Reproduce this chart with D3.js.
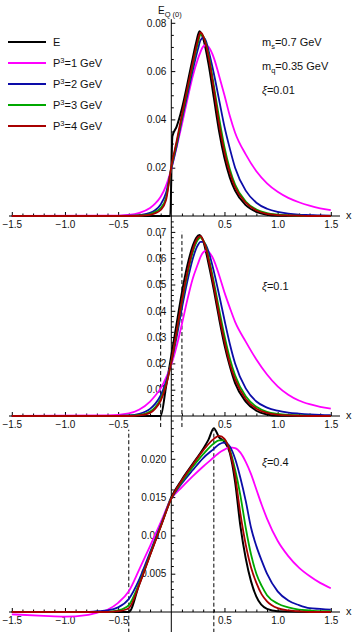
<!DOCTYPE html>
<html><head><meta charset="utf-8">
<script src="https://cdn.jsdelivr.net/npm/d3@7"></script>
<style>
body{margin:0;background:#fff}
svg{display:block}
text{font-family:"Liberation Sans",Arial,sans-serif;fill:#111}
</style>
</head><body>
<svg id="c" width="354" height="632"></svg>
<script>
// ---------------- DATA ----------------
const seriesNames = ["E", "P3=1 GeV", "P3=2 GeV", "P3=3 GeV", "P3=4 GeV"];
const seriesColors = ["#000000", "#ff00ff", "#0c0ca8", "#00a800", "#a80000"];
const xiValues = [0.01, 0.1, 0.4];

const xTickValues = [-1.5, -1.0, -0.5, 0.5, 1.0, 1.5];
const xTickLabels = ["\u22121.5", "\u22121.0", "\u22120.5", "0.5", "1.0", "1.5"];

const yTicks1 = [0.02, 0.04, 0.06, 0.08];
const yLabels1 = ["0.02", "0.04", "0.06", "0.08"];
const yTicks2 = [0.01, 0.02, 0.03, 0.04, 0.05, 0.06, 0.07];
const yLabels2 = ["0.01", "0.02", "0.03", "0.04", "0.05", "0.06", "0.07"];
const yTicks3 = [0.005, 0.010, 0.015, 0.020];
const yLabels3 = ["0.005", "0.010", "0.015", "0.020"];

// Panel 1 (xi = 0.01)
const grid1 = [-1.5, -0.6, -0.4, -0.3, -0.2, -0.15, -0.1, -0.05, 0, 0.05, 0.1, 0.15, 0.2, 0.25, 0.275, 0.3, 0.325, 0.35, 0.4, 0.45, 0.5, 0.55, 0.6, 0.7, 0.8, 0.9, 1.0, 1.1, 1.2, 1.3, 1.4, 1.5];
const p1_P1 = [0, 0.0001, 0.0005, 0.0013, 0.0033, 0.0052, 0.008, 0.0125, 0.0195, 0.0285, 0.038, 0.048, 0.0575, 0.065, 0.068, 0.0702, 0.0707, 0.0700, 0.0655, 0.058, 0.050, 0.0415, 0.0345, 0.0255, 0.0185, 0.0135, 0.010, 0.0075, 0.0057, 0.0043, 0.0032, 0.0024];
const p1_P2 = [0, 0, 0.0001, 0.0004, 0.0013, 0.0025, 0.0048, 0.0095, 0.0195, 0.029, 0.040, 0.050, 0.060, 0.069, 0.0728, 0.0738, 0.0725, 0.0685, 0.059, 0.048, 0.037, 0.028, 0.020, 0.0105, 0.0055, 0.003, 0.0017, 0.001, 0.0006, 0.0004, 0.0002, 0.0001];
const p1_P3 = [0, 0, 0.00005, 0.0002, 0.0008, 0.0017, 0.0033, 0.0075, 0.020, 0.030, 0.041, 0.0515, 0.062, 0.0715, 0.0752, 0.0745, 0.0715, 0.067, 0.054, 0.0405, 0.0285, 0.0195, 0.013, 0.006, 0.0027, 0.0012, 0.0006, 0.0003, 0.0001, 0, 0, 0];
const p1_P4 = [0, 0, 0, 0.0001, 0.0005, 0.0012, 0.0025, 0.0065, 0.0205, 0.031, 0.042, 0.0525, 0.063, 0.0728, 0.0760, 0.0745, 0.071, 0.066, 0.0525, 0.038, 0.0265, 0.018, 0.012, 0.0055, 0.0023, 0.0009, 0.0004, 0.0002, 0.0001, 0, 0, 0];
const e1X = [-1.5, -0.01, 0.01, 0.05, 0.1, 0.15, 0.2, 0.235, 0.265, 0.3, 0.35, 0.4, 0.45, 0.5, 0.55, 0.6, 0.7, 0.8, 0.9, 1.0, 1.5];
const e1Y = [0, 0, 0.033, 0.037, 0.0445, 0.0545, 0.065, 0.072, 0.0765, 0.0735, 0.063, 0.049, 0.035, 0.024, 0.016, 0.0105, 0.0045, 0.0017, 0.0005, 0.0001, 0];

// Panel 2 (xi = 0.1)
const grid2 = [-1.5, -0.6, -0.4, -0.3, -0.2, -0.15, -0.1, -0.05, 0, 0.05, 0.1, 0.15, 0.2, 0.25, 0.275, 0.3, 0.325, 0.35, 0.4, 0.45, 0.5, 0.55, 0.6, 0.7, 0.8, 0.9, 1.0, 1.1, 1.2, 1.3, 1.4, 1.5];
const p2_P1 = [0, 0.0002, 0.001, 0.0025, 0.0055, 0.0078, 0.0105, 0.0145, 0.0195, 0.0265, 0.0350, 0.044, 0.0520, 0.0578, 0.0605, 0.0622, 0.0629, 0.0625, 0.0593, 0.0535, 0.047, 0.0412, 0.0358, 0.0283, 0.0215, 0.0158, 0.0113, 0.0081, 0.0059, 0.0045, 0.0035, 0.0028];
const p2_P2 = [0, 0, 0.0002, 0.0008, 0.0027, 0.0047, 0.0078, 0.013, 0.0205, 0.030, 0.041, 0.051, 0.0595, 0.065, 0.0662, 0.0662, 0.0650, 0.0625, 0.055, 0.046, 0.0365, 0.0275, 0.020, 0.0105, 0.0055, 0.0032, 0.002, 0.0013, 0.0009, 0.0006, 0.0004, 0.0003];
const p2_P3 = [0, 0, 0.0001, 0.0004, 0.0017, 0.0034, 0.0065, 0.012, 0.0205, 0.0315, 0.0432, 0.0535, 0.062, 0.067, 0.0678, 0.0668, 0.0645, 0.0605, 0.051, 0.0405, 0.0305, 0.022, 0.0155, 0.0075, 0.0035, 0.0016, 0.0008, 0.0004, 0.0002, 0.0001, 0, 0];
const p2_P4 = [0, 0, 0, 0.0002, 0.0012, 0.0028, 0.0058, 0.0115, 0.0205, 0.032, 0.044, 0.0545, 0.063, 0.0678, 0.0684, 0.0668, 0.0640, 0.0595, 0.0495, 0.0385, 0.0285, 0.020, 0.014, 0.0065, 0.0028, 0.0012, 0.0005, 0.0002, 0.0001, 0, 0, 0];
const e2X = [-1.5, -0.1, -0.05, 0, 0.05, 0.1, 0.15, 0.2, 0.235, 0.265, 0.3, 0.35, 0.4, 0.45, 0.5, 0.55, 0.6, 0.7, 0.8, 0.9, 1.0, 1.5];
const e2Y = [0, 0, 0.011, 0.023, 0.035, 0.047, 0.057, 0.0645, 0.0678, 0.0688, 0.0665, 0.058, 0.048, 0.037, 0.027, 0.019, 0.0125, 0.0055, 0.002, 0.0006, 0.0001, 0];

// Panel 3 (xi = 0.4)
const grid3 = [-1.5, -1.2, -1.0, -0.8, -0.7, -0.6, -0.5, -0.4, -0.3, -0.2, -0.1, 0, 0.1, 0.2, 0.3, 0.4, 0.45, 0.5, 0.55, 0.6, 0.65, 0.7, 0.75, 0.8, 0.85, 0.9, 1.0, 1.1, 1.2, 1.3, 1.4, 1.5];
const p3_P1 = [-0.0003, -0.0005, -0.0006, -0.0004, -0.0001, 0.0003, 0.0012, 0.0027, 0.0056, 0.0086, 0.0117, 0.0148, 0.0163, 0.0177, 0.019, 0.0202, 0.0208, 0.0212, 0.0215, 0.0214, 0.0208, 0.0196, 0.0180, 0.0160, 0.0140, 0.0122, 0.0093, 0.0073, 0.0058, 0.0047, 0.0038, 0.0031];
const p3_P2 = [0, 0, 0, 0, 0.0001, 0.0002, 0.0006, 0.0017, 0.0043, 0.0078, 0.0113, 0.0148, 0.0168, 0.0185, 0.0201, 0.0213, 0.0219, 0.0221, 0.0216, 0.0200, 0.0175, 0.0145, 0.0110, 0.0086, 0.0067, 0.0050, 0.0027, 0.0015, 0.0009, 0.0005, 0.0004, 0.0003];
const p3_P3 = [0, 0, 0, 0, 0, 0, 0.0002, 0.0009, 0.0038, 0.0075, 0.0112, 0.0148, 0.0170, 0.0189, 0.0206, 0.0220, 0.0224, 0.0224, 0.0212, 0.0186, 0.0152, 0.0110, 0.0075, 0.0050, 0.0034, 0.0022, 0.0011, 0.0006, 0.0003, 0.0002, 0.0001, 0.0001];
const p3_P4 = [0, 0, 0, 0, 0, 0, 0.0001, 0.0005, 0.0036, 0.0074, 0.0111, 0.0148, 0.0172, 0.0192, 0.0211, 0.0226, 0.0230, 0.0226, 0.0210, 0.0178, 0.0128, 0.0088, 0.0058, 0.0038, 0.0023, 0.0014, 0.0005, 0.0002, 0.0001, 0, 0, 0];
const e3X = [-1.5, -0.4, -0.3, -0.2, -0.1, 0, 0.1, 0.2, 0.3, 0.35, 0.4, 0.45, 0.5, 0.55, 0.6, 0.65, 0.7, 0.75, 0.8, 0.9, 1.0, 1.5];
const e3Y = [0, 0, 0.0037, 0.0075, 0.0112, 0.0150, 0.0173, 0.0193, 0.0213, 0.0225, 0.0240, 0.0228, 0.0222, 0.0208, 0.0170, 0.0112, 0.0070, 0.0040, 0.0020, 0.0004, 0.0001, 0];

// ---------------- DRAW ----------------
const svg = d3.select("#c");
const x = d3.scaleLinear().domain([-1.5, 1.5]).range([11.8, 330.8]);

const panels = [
  { grid: grid1, vals: [p1_P1, p1_P2, p1_P3, p1_P4], eX: e1X, eY: e1Y,
    y: d3.scaleLinear().domain([0, 0.08]).range([216, 22.8]),
    yT: yTicks1, yL: yLabels1, minorStep: 0.005, yMin: -0.0017, yMax: 0.0815, dash: null },
  { grid: grid2, vals: [p2_P1, p2_P2, p2_P3, p2_P4], eX: e2X, eY: e2Y,
    y: d3.scaleLinear().domain([0, 0.07]).range([416, 231.9]),
    yT: yTicks2, yL: yLabels2, minorStep: 0.002, yMin: -0.0015, yMax: 0.0745, dash: [-0.0042, 0.070] },
  { grid: grid3, vals: [p3_P1, p3_P2, p3_P3, p3_P4], eX: e3X, eY: e3Y,
    y: d3.scaleLinear().domain([0, 0.02]).range([612, 458.8]),
    yT: yTicks3, yL: yLabels3, minorStep: 0.001, yMin: -0.0027, yMax: 0.0251, dash: [-0.0027, 0.0238] }
];

const minorX = d3.range(-1.5, 1.5001, 0.1).map(v => Math.round(v * 10) / 10).filter(v => !xTickValues.includes(v) && v !== 0);

panels.forEach((p, i) => {
  const g = svg.append("g");
  const y = p.y;
  const y0 = y(0);

  if (p.dash) {
    [-xiValues[i], xiValues[i]].forEach(xv => {
      g.append("line").attr("x1", x(xv)).attr("x2", x(xv))
        .attr("y1", y(p.dash[0])).attr("y2", y(p.dash[1]))
        .attr("stroke", "#000").attr("stroke-width", 1).attr("stroke-dasharray", "4,2.5");
    });
  }

  const xAxis = d3.axisBottom(x).tickValues(xTickValues)
    .tickFormat((d, k) => xTickLabels[k]).tickSize(-4).tickPadding(5);
  const xa = g.append("g").attr("transform", `translate(0,${y0})`).call(xAxis);
  xa.select(".domain").remove();
  xa.selectAll("text").attr("font-size", 10).attr("fill", "#222").attr("font-family", "Liberation Sans, Arial, sans-serif");
  xa.selectAll("line").attr("stroke", "#000");
  const xm = g.append("g").attr("transform", `translate(0,${y0})`)
    .call(d3.axisBottom(x).tickValues(minorX).tickSize(-2.5).tickFormat(""));
  xm.select(".domain").remove();
  xm.selectAll("line").attr("stroke", "#000");
  g.append("line").attr("x1", 9).attr("x2", 340).attr("y1", y0).attr("y2", y0)
    .attr("stroke", "#000").attr("stroke-width", 1);
  g.append("text").attr("x", 346).attr("y", y0 + 3).attr("font-size", 11).text("x");

  const yAxis = d3.axisLeft(y).tickValues(p.yT).tickFormat((d, k) => p.yL[k]).tickSize(-4).tickPadding(5);
  const ya = g.append("g").attr("transform", `translate(${x(0)},0)`).call(yAxis);
  ya.select(".domain").remove();
  ya.selectAll("text").attr("font-size", 10).attr("fill", "#222").attr("font-family", "Liberation Sans, Arial, sans-serif");
  ya.selectAll("line").attr("stroke", "#000");
  const minorY = d3.range(p.minorStep, p.yMax, p.minorStep)
    .filter(v => !p.yT.some(t => Math.abs(t - v) < 1e-9));
  const ym = g.append("g").attr("transform", `translate(${x(0)},0)`)
    .call(d3.axisLeft(y).tickValues(minorY).tickSize(-2.5).tickFormat(""));
  ym.select(".domain").remove();
  ym.selectAll("line").attr("stroke", "#000");
  g.append("line").attr("x1", x(0)).attr("x2", x(0)).attr("y1", y(p.yMin)).attr("y2", y(p.yMax))
    .attr("stroke", "#000").attr("stroke-width", 1);

  const line = d3.line().x(d => x(d[0])).y(d => y(d[1])).curve(d3.curveMonotoneX);
  g.append("path").datum(p.eX.map((xv, k) => [xv, p.eY[k]]))
    .attr("d", line).attr("fill", "none").attr("stroke", seriesColors[0]).attr("stroke-width", 2);
  p.vals.forEach((vals, s) => {
    g.append("path").datum(p.grid.map((xv, k) => [xv, vals[k]]))
      .attr("d", line).attr("fill", "none").attr("stroke", seriesColors[s + 1]).attr("stroke-width", 1.8);
  });
});

// y-axis title
const t = svg.append("text").attr("x", 158).attr("y", 14).attr("font-size", 10);
t.append("tspan").text("E");
t.append("tspan").attr("font-size", 7.5).attr("dy", 2.5).text("Q (0)");

// legend
const legY = [42, 63, 84, 105, 126];
seriesNames.forEach((n, k) => {
  svg.append("line").attr("x1", 8).attr("x2", 46).attr("y1", legY[k]).attr("y2", legY[k])
    .attr("stroke", seriesColors[k]).attr("stroke-width", 2);
  const tx = svg.append("text").attr("x", 53).attr("y", legY[k] + 4).attr("font-size", 11);
  if (k === 0) { tx.text(n); }
  else {
    tx.append("tspan").text(n.slice(0, 1));
    tx.append("tspan").attr("font-size", 7.5).attr("dy", -4.5).text(n.slice(1, 2));
    tx.append("tspan").attr("dy", 4.5).text(n.slice(2));
  }
});

// annotations
function subText(xp, yp, main, sub, rest) {
  const tt = svg.append("text").attr("x", xp).attr("y", yp).attr("font-size", 11);
  tt.append("tspan").text(main);
  tt.append("tspan").attr("font-size", 7.5).attr("dy", 2.5).text(sub);
  tt.append("tspan").attr("dy", -2.5).text(rest);
}
subText(262, 46, "m", "s", "=0.7 GeV");
subText(262, 70, "m", "q", "=0.35 GeV");
const xiY = [94, 290, 466];
xiValues.forEach((v, k) => {
  const tt = svg.append("text").attr("x", 262).attr("y", xiY[k]).attr("font-size", 11);
  tt.append("tspan").attr("font-style", "italic").text("\u03BE");
  tt.append("tspan").text("=" + v);
});
</script>
</body></html>
